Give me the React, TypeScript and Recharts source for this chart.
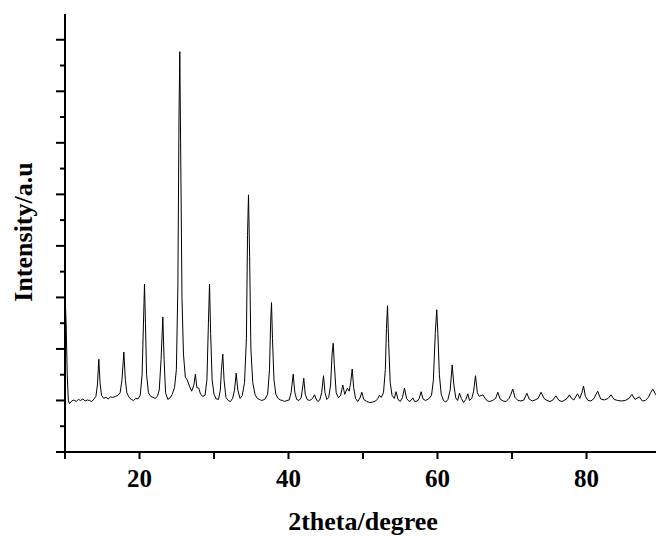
import React from 'react'
import { LineChart, Line, XAxis, YAxis, Label } from 'recharts'

// 2theta positions (degree)
const twoTheta = [
  10.0, 10.15, 10.3, 10.45, 10.6, 10.9, 11.2, 11.5, 11.8, 12.1,
  12.4, 12.7, 13.0, 13.3, 13.6, 13.9, 14.15, 14.35, 14.54, 14.7,
  14.9, 15.2, 15.5, 15.8, 16.1, 16.4, 16.8, 17.1, 17.4, 17.65,
  17.9, 18.1, 18.3, 18.6, 18.9, 19.2, 19.5, 19.8, 20.1, 20.35,
  20.55, 20.67, 20.8, 20.95, 21.2, 21.5, 21.8, 22.1, 22.4, 22.65,
  22.9, 23.13, 23.3, 23.5, 23.8, 24.1, 24.4, 24.7, 24.95, 25.15,
  25.3, 25.41, 25.52, 25.7, 25.9, 26.15, 26.4, 26.7, 27.0, 27.3,
  27.5, 27.7, 27.95, 28.2, 28.5, 28.8, 29.05, 29.25, 29.4, 29.55,
  29.75, 30.0, 30.3, 30.6, 30.85, 31.0, 31.18, 31.35, 31.6, 31.9,
  32.2, 32.5, 32.75, 32.98, 33.2, 33.5, 33.8, 34.1, 34.35, 34.5,
  34.63, 34.78, 34.95, 35.2, 35.5, 35.8, 36.1, 36.4, 36.8, 37.2,
  37.45, 37.6, 37.72, 37.85, 38.05, 38.3, 38.6, 38.9, 39.2, 39.5,
  39.8, 40.1, 40.35, 40.63, 40.85, 41.1, 41.4, 41.7, 41.85, 42.05,
  42.25, 42.5, 42.8, 43.1, 43.3, 43.5, 43.7, 43.95, 44.2, 44.45,
  44.7, 44.9, 45.15, 45.4, 45.65, 45.85, 46.0, 46.15, 46.4, 46.7,
  47.0, 47.29, 47.55, 47.9, 48.15, 48.35, 48.55, 48.75, 49.0, 49.3,
  49.6, 49.84, 50.1, 50.5, 50.9, 51.3, 51.7, 52.0, 52.2, 52.45,
  52.75, 53.0, 53.15, 53.29, 53.45, 53.65, 53.9, 54.2, 54.45, 54.7,
  55.0, 55.3, 55.57, 55.85, 56.2, 56.45, 56.68, 56.95, 57.3, 57.55,
  57.8, 58.05, 58.4, 58.8, 59.2, 59.45, 59.7, 59.9, 60.05, 60.25,
  60.5, 60.8, 61.1, 61.4, 61.7, 61.97, 62.2, 62.45, 62.7, 62.95,
  63.2, 63.5, 63.8, 64.07, 64.3, 64.6, 64.85, 65.1, 65.35, 65.6,
  66.08, 66.4, 66.7, 67.0, 67.4, 67.8, 68.1, 68.4, 68.8, 69.2,
  69.6, 69.85, 70.1, 70.4, 70.8, 71.2, 71.6, 72.0, 72.3, 72.7,
  73.1, 73.5, 73.9, 74.3, 74.7, 75.1, 75.5, 75.9, 76.3, 76.7,
  77.1, 77.4, 77.7, 78.0, 78.3, 78.8, 79.1, 79.4, 79.6, 79.85,
  80.2, 80.6, 81.0, 81.5, 81.9, 82.4, 82.9, 83.3, 83.7, 84.2,
  84.7, 85.2, 85.7, 86.1, 86.5, 87.1, 87.5, 87.9, 88.3, 88.6,
  88.9, 89.2, 89.6, 90.0,
]

// intensity (a.u.)
const counts = [
  310, 250, 150, 100, 94, 99, 101, 98, 102, 100,
  103, 99, 101, 100, 98, 103, 108, 130, 180, 135,
  110, 104, 106, 103, 107, 106, 108, 110, 115, 140,
  194, 140, 115, 106, 102, 100, 104, 103, 110, 150,
  260, 326, 250, 150, 115, 108, 106, 104, 108, 120,
  180, 262, 180, 115, 102, 105, 112, 125, 160, 320,
  650, 777, 600, 300, 190, 145, 140, 128, 118, 130,
  151, 125, 124, 112, 108, 110, 140, 250, 326, 230,
  140, 112, 103, 102, 120, 160, 190, 140, 106, 100,
  98, 104, 120, 153, 120, 104, 110, 135, 220, 420,
  499, 380, 200, 135, 112, 104, 102, 100, 102, 112,
  160, 250, 290, 220, 140, 112, 104, 101, 100, 98,
  100, 101, 115, 151, 115, 102, 100, 105, 120, 143,
  112, 102, 100, 102, 106, 111, 103, 98, 101, 115,
  148, 115, 102, 106, 130, 190, 211, 170, 115, 105,
  110, 130, 112, 124, 118, 135, 161, 125, 104, 98,
  105, 116, 102, 98, 96, 97, 99, 104, 110, 106,
  115, 160, 240, 284, 210, 135, 110, 104, 117, 102,
  98, 106, 124, 104, 98, 100, 105, 98, 99, 104,
  117, 103, 100, 103, 110, 140, 230, 276, 230, 150,
  112, 100, 97, 102, 120, 169, 130, 105, 100, 114,
  104, 96, 102, 113, 100, 104, 118, 148, 115, 108,
  111, 104, 99, 98, 100, 104, 116, 103, 99, 98,
  104, 112, 122, 106, 100, 99, 101, 114, 103, 99,
  101, 104, 116, 104, 100, 98, 101, 109, 100, 98,
  101, 104, 111, 104, 101, 113, 104, 116, 128, 108,
  100, 99, 104, 118, 103, 101, 104, 111, 102, 100,
  99, 100, 104, 112, 102, 107, 99, 100, 106, 115,
  122, 114, 104, 101,
]

const xTicks = [10, 20, 30, 40, 50, 60, 70, 80, 90]
const xLabelled = [20, 40, 60, 80]
const yTicks = [0, 50, 100, 150, 200, 250, 300, 350, 400, 450, 500, 550, 600, 650, 700, 750, 800]

const data = twoTheta.map((t, i) => ({ theta: t, intensity: counts[i] }))

const font = '"Liberation Serif", "Times New Roman", serif'

const BottomTick = (props: any) => {
  const { x, y, payload } = props
  const v = payload.value
  return (
    <g>
      <line x1={x} y1={y} x2={x} y2={y + 7} stroke="#000" strokeWidth={2} />
      {xLabelled.includes(v) && (
        <text x={x} y={y + 35} textAnchor="middle" fontFamily={font} fontWeight="bold" fontSize={25} fill="#000">
          {v}
        </text>
      )}
    </g>
  )
}

const TopTick = (props: any) => {
  const { x, y } = props
  return <line x1={x} y1={y} x2={x} y2={y + 2} stroke="#000" strokeWidth={2} />
}

const LeftTick = (props: any) => {
  const { x, y, payload } = props
  const len = payload.value % 100 === 0 ? 9 : 5
  return <line x1={x - len} y1={y} x2={x} y2={y} stroke="#000" strokeWidth={2} />
}

export default function App() {
  return (
    <div style={{ position: 'absolute', left: 0, top: 0, width: 656, height: 536, overflow: 'hidden', background: '#fff' }}>
      <LineChart width={680} height={536} data={data} margin={{ top: 14, right: 19, bottom: 54, left: 55 }}>
        <XAxis
          dataKey="theta"
          type="number"
          domain={[10, 90]}
          ticks={xTicks}
          interval={0}
          tickSize={0}
          tickMargin={0}
          tick={<BottomTick />}
          axisLine={{ stroke: '#000', strokeWidth: 2 }}
          tickLine={false}
          height={30}
        >
          <Label
            content={() => (
              <text x={363} y={530} textAnchor="middle" fontFamily={font} fontWeight="bold" fontSize={26} fill="#000">
                2theta/degree
              </text>
            )}
          />
        </XAxis>
        <XAxis
          xAxisId="top"
          orientation="top"
          dataKey="theta"
          type="number"
          domain={[10, 90]}
          ticks={xTicks}
          interval={0}
          tickSize={0}
          tickMargin={0}
          tick={<TopTick />}
          axisLine={{ stroke: '#000', strokeWidth: 2 }}
          tickLine={false}
          height={0}
        />
        <YAxis
          type="number"
          domain={[0, 850]}
          ticks={yTicks}
          interval={0}
          tickSize={0}
          tickMargin={0}
          tick={<LeftTick />}
          axisLine={{ stroke: '#000', strokeWidth: 2 }}
          tickLine={false}
          width={10}
        >
          <Label
            content={() => (
              <text
                x={23}
                y={232}
                transform="rotate(-90, 23, 232)"
                textAnchor="middle"
                dominantBaseline="central"
                fontFamily={font}
                fontWeight="bold"
                fontSize={26}
                fill="#000"
              >
                Intensity/a.u
              </text>
            )}
          />
        </YAxis>
        <Line
          dataKey="intensity"
          type="linear"
          stroke="#000"
          strokeWidth={1}
          dot={false}
          isAnimationActive={false}
        />
      </LineChart>
    </div>
  )
}
